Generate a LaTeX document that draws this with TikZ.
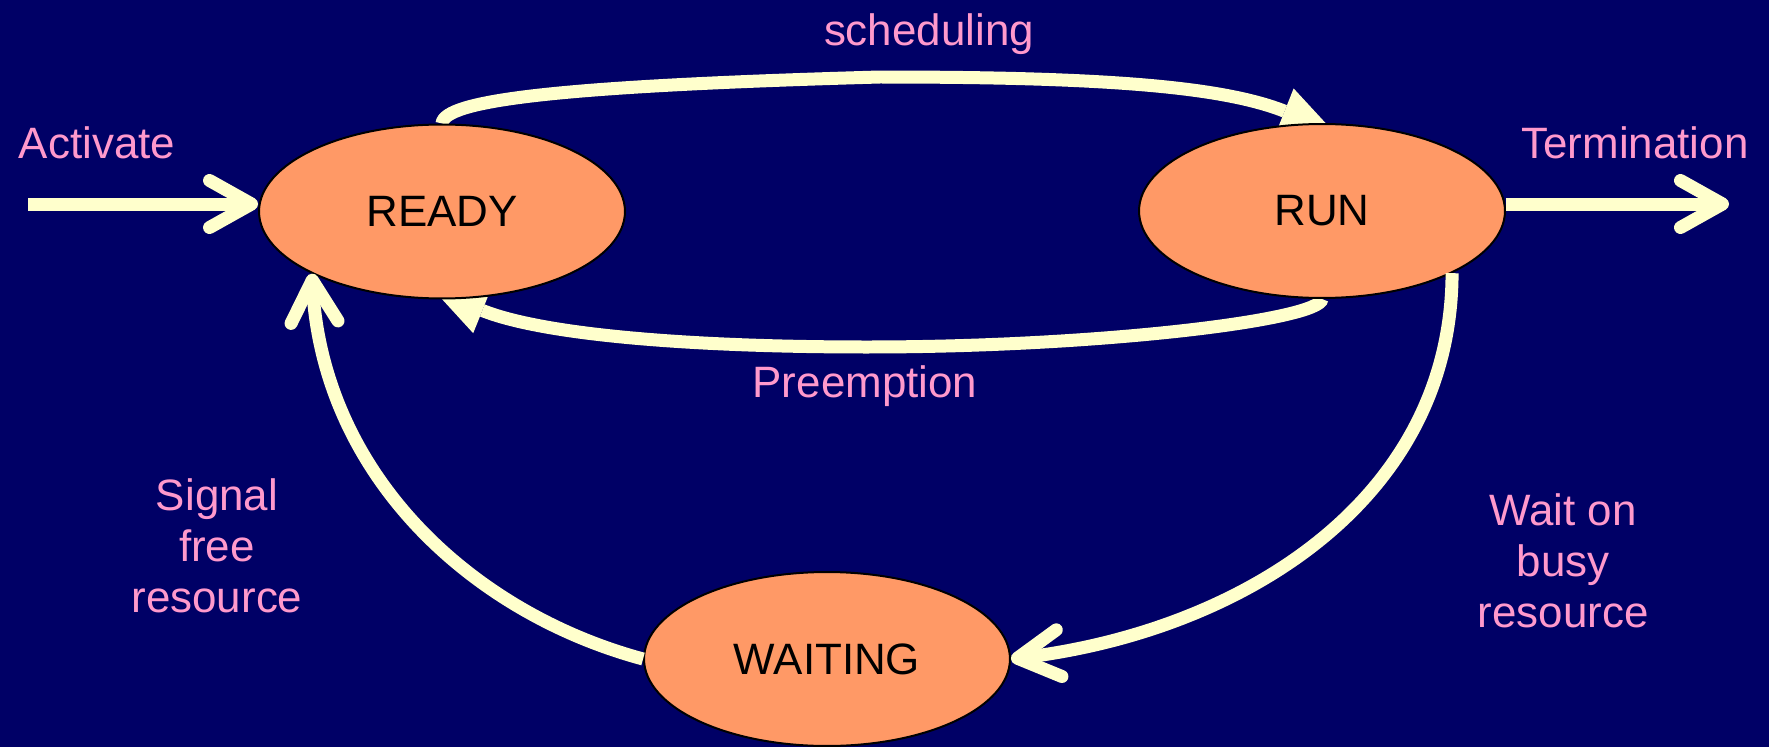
\documentclass[tikz,border=0pt]{standalone}
\usepackage{fontspec}
\setmainfont{Liberation Sans}
\usetikzlibrary{arrows.meta,shapes.geometric,calc}
\pgfdeclarelayer{bg}
\pgfdeclarelayer{under}
\pgfsetlayers{bg,under,main}
\definecolor{slidebg}{RGB}{0,0,102}
\definecolor{statefill}{RGB}{255,153,102}
\definecolor{flow}{RGB}{255,255,204}
\definecolor{caption}{RGB}{255,153,204}
\begin{document}
\begin{tikzpicture}[x=0.02cm, y=-0.02cm,
  state/.style={ellipse, draw=black, line width=0.04cm, fill=statefill,
    minimum width=7.32cm, minimum height=3.48cm, inner sep=0pt,
    font=\fontsize{25}{29}\selectfont, text=black},
  lbl/.style={text=caption, font=\fontsize{25}{29}\selectfont, inner sep=0pt},
  flowline/.style={draw=flow, line width=0.26cm},
  barb/.style={flowline, -{Straight Barb[length=0.84cm, width=0.94cm, round]}},
  wedge/.style={flowline, -{Triangle[length=1.02cm, width=0.98cm, line width=0pt]}}
]
% slide background and page size
\begin{pgfonlayer}{bg}
  \fill[slidebg] (0,0) rectangle (1769,747);
\end{pgfonlayer}
\useasboundingbox (0,0) rectangle (1769,747);

% process states
\node[state] (ready)   at (442,211.5) {READY};
\node[state] (run)     at (1322,211)  {RUN};
\node[state] (waiting) at (827,659)   {WAITING};

% transitions whose heads tuck under the state ellipses
\begin{pgfonlayer}{under}
  \draw[wedge] (ready.north) .. controls (444,100) and (560,86) .. (880,77)
               .. controls (1100,77) and (1221,86) .. ($(run.north)+(10,7)$);
  \draw[wedge] (run.south) .. controls (1320,320) and (1100,347) .. (867,347)
               .. controls (700,347) and (546,336) .. ($(ready.south)+(-7,-8)$);
\end{pgfonlayer}

% resource transitions
\draw[barb] (waiting.west) .. controls (469,612) and (322.6,473) .. (ready.south west);
\draw[barb] (run.south east) .. controls (1451.4,502.5) and (1238.7,631.4) .. (waiting.east);

% entry and exit
\coordinate (actfrom) at (28,204);
\draw[barb] (actfrom) -- (actfrom -| ready.west);
\coordinate (termto) at (1729,204);
\draw[barb] (run.east |- termto) -- (termto);

% transition labels
\node[lbl, anchor=base] (act)     at (97,158)   {Activate};
\node[lbl, anchor=base] (term)    at (1635,158) {Termination};
\node[lbl, anchor=base] (sched)   at (929,45)   {scheduling};
\node[lbl, anchor=base] (preempt) at (865,397)  {Preemption};
\node[lbl, anchor=north, align=center] (signal)  at (217,478)  {Signal\\free\\resource};
\node[lbl, anchor=north, align=center] (waitlbl) at (1563,493) {Wait on\\busy\\resource};
\end{tikzpicture}
\end{document}
